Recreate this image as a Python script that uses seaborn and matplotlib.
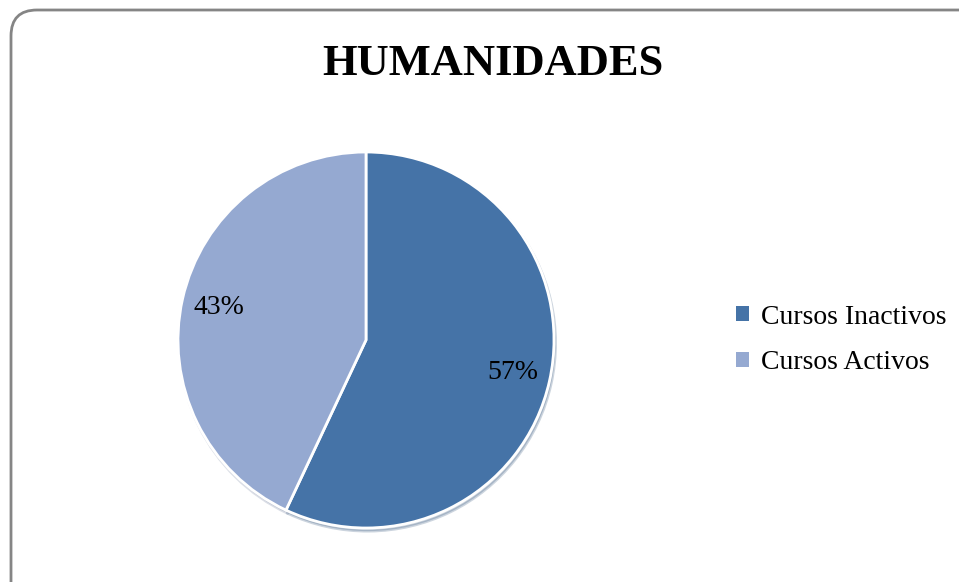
import matplotlib
matplotlib.use("Agg")
import matplotlib.pyplot as plt
from matplotlib.patches import FancyBboxPatch, Patch
from matplotlib.transforms import IdentityTransform
import seaborn as sns

# ---------------- Data ----------------
title = "HUMANIDADES"
categories = ["Cursos Inactivos", "Cursos Activos"]
values = [57, 43]
colors = ["#4573A7", "#95A9D1"]

# ---------------- Style ----------------
sns.set_theme(style="white")
plt.rcParams["font.family"] = ["Liberation Serif", "DejaVu Serif"]
plt.rcParams["text.color"] = "black"
palette = sns.color_palette(colors)

fig = plt.figure(figsize=(9.59, 5.82), dpi=100)

# rounded chart frame (pixel coords, runs off right/bottom edges)
frame = FancyBboxPatch((11, -40), 975, 612,
                       boxstyle="round,pad=0,rounding_size=26",
                       transform=IdentityTransform(), facecolor="none",
                       edgecolor="#858585", linewidth=2, zorder=5)
fig.patches.append(frame)

# pie axes: centre ~ (366, 340) px, radius ~188 px
ax = fig.add_axes([178 / 959, 54 / 582, 376 / 959, 376 / 582])
wedges, texts, autotexts = ax.pie(
    values, colors=palette, startangle=90, counterclock=False,
    autopct="%1.0f%%", pctdistance=0.8, radius=1,
    wedgeprops=dict(edgecolor="white", linewidth=2),
    textprops=dict(fontsize=20, color="black"),
    shadow=dict(ox=0.006, oy=-0.012, shade=0.25, alpha=0.25),
)
ax.set_xlim(-1.0, 1.0)
ax.set_ylim(-1.0, 1.0)
ax.set_aspect("equal")
ax.axis("off")

fig.text(493 / 959, 1 - 64 / 582, title, ha="center", va="center",
         fontsize=32, fontweight="bold", color="black")

handles = [Patch(facecolor=c, edgecolor="none") for c in palette]
fig.legend(handles, categories, loc="center left",
           bbox_to_anchor=(711 / 959, 1 - 340 / 582), frameon=False,
           fontsize=20, handlelength=0.45, handleheight=0.45,
           handletextpad=0.45, labelspacing=0.75, labelcolor="black")

fig.savefig("out.png", dpi=100)
